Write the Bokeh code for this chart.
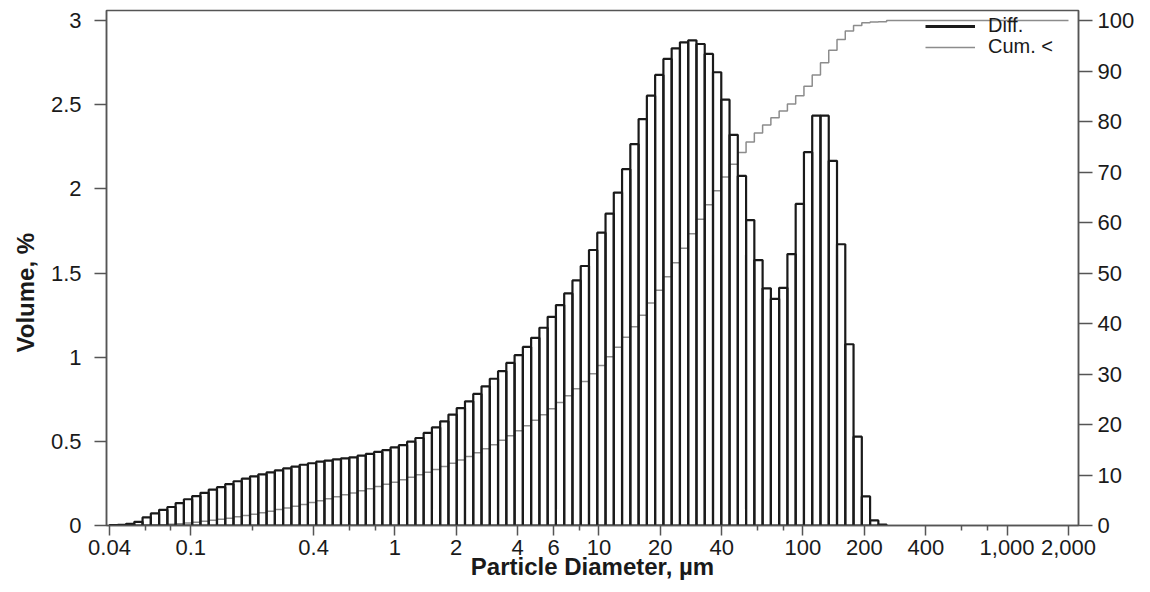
import numpy as np
from bokeh.plotting import figure
from bokeh.models import (Range1d, LinearAxis, FixedTicker, NumeralTickFormatter,
                          Legend, LegendItem, Title)
from bokeh.embed import file_html
from bokeh.resources import INLINE

# ---- data ----
# channel edges: 116 logarithmic channels from 0.04 to 2000 um
n_channels = 116
d_min, d_max = 0.04, 2000.0

# differential volume %, channels 0..93 (higher channels are zero)
diff_volume = [
    0.002, 0.004, 0.010, 0.022, 0.048, 0.072, 0.093, 0.110, 0.133, 0.156,
    0.175, 0.194, 0.213, 0.228, 0.246, 0.263, 0.278, 0.292, 0.304, 0.316,
    0.328, 0.339, 0.350, 0.361, 0.370, 0.379, 0.386, 0.393, 0.399, 0.405,
    0.415, 0.425, 0.437, 0.448, 0.464, 0.477, 0.498, 0.520, 0.550, 0.583,
    0.619, 0.659, 0.698, 0.738, 0.782, 0.827, 0.872, 0.917, 0.966, 1.012,
    1.061, 1.115, 1.175, 1.240, 1.310, 1.379, 1.456, 1.542, 1.637, 1.740,
    1.853, 1.978, 2.117, 2.266, 2.415, 2.554, 2.677, 2.772, 2.835, 2.871,
    2.883, 2.861, 2.802, 2.693, 2.530, 2.321, 2.077, 1.815, 1.577, 1.409,
    1.347, 1.412, 1.613, 1.911, 2.218, 2.435, 2.435, 2.167, 1.671, 1.077,
    0.528, 0.173, 0.030, 0.005,
]

# cumulative volume % (undersize) level over each channel, channels 0..115
cum_volume = [
    0.00, 0.00, 0.01, 0.02, 0.04, 0.09, 0.16, 0.25, 0.36, 0.49,
    0.65, 0.83, 1.02, 1.23, 1.46, 1.71, 1.97, 2.25, 2.54, 2.84,
    3.16, 3.49, 3.83, 4.18, 4.54, 4.91, 5.29, 5.67, 6.07, 6.46,
    6.87, 7.28, 7.71, 8.15, 8.59, 9.06, 9.54, 10.03, 10.55, 11.10,
    11.69, 12.31, 12.96, 13.66, 14.40, 15.18, 16.01, 16.88, 17.80, 18.76,
    19.78, 20.84, 21.95, 23.13, 24.37, 25.68, 27.06, 28.51, 30.05, 31.69,
    33.43, 35.28, 37.26, 39.38, 41.65, 44.06, 46.61, 49.29, 52.06, 54.90,
    57.77, 60.65, 63.51, 66.32, 69.01, 71.54, 73.86, 75.94, 77.75, 79.33,
    80.74, 82.08, 83.50, 85.11, 87.02, 89.24, 91.67, 94.11, 96.28, 97.95,
    99.02, 99.55, 99.72, 99.75,
    100.0, 100.0, 100.0, 100.0, 100.0, 100.0, 100.0, 100.0, 100.0, 100.0, 100.0,
    100.0, 100.0, 100.0, 100.0, 100.0, 100.0, 100.0, 100.0, 100.0, 100.0, 100.0,
]

x_major_ticks = [0.04, 0.1, 0.4, 1, 2, 4, 6, 10, 20, 40, 100, 200, 400, 1000, 2000]
x_minor_ticks = [0.06, 0.08, 0.2, 0.6, 0.8, 8, 60, 80, 600, 800]
y_left_ticks = [0, 0.5, 1, 1.5, 2, 2.5, 3]
y_right_ticks = [0, 10, 20, 30, 40, 50, 60, 70, 80, 90, 100]

edges = np.geomspace(d_min, d_max, n_channels + 1)

FONT = "Liberation Sans"
INK = "#1a1a1a"
AXC = "#555555"

p = figure(width=1148, height=590, x_axis_type="log",
           x_range=Range1d(0.03867, 2239), y_range=Range1d(0, 3.06),
           output_backend="svg", toolbar_location=None,
           min_border_left=106, min_border_right=70,
           min_border_top=10, min_border_bottom=65)
p.extra_y_ranges = {"cum": Range1d(0, 102)}
p.xgrid.visible = False
p.ygrid.visible = False
p.outline_line_color = AXC
p.outline_line_width = 1.5
p.background_fill_color = "white"
p.border_fill_color = "white"

# cumulative step line (drawn first, bar outlines on top)
cum_x = list(edges)
cum_y = cum_volume + [cum_volume[-1]]
r_cum = p.step(x=cum_x, y=cum_y, mode="after", y_range_name="cum",
               line_color="#8c8c8c", line_width=1.5)

# differential bars
nb = len(diff_volume)
p.quad(left=edges[:nb], right=edges[1:nb + 1], bottom=0, top=diff_volume,
       fill_color=None, line_color=INK, line_width=2.2)

# legend proxy for "Diff." (a single NaN point: nothing drawn in the frame)
r_diff = p.line(x=[np.nan], y=[np.nan], line_color=INK, line_width=3)

# x axis
xa = p.xaxis[0]
xa.ticker = FixedTicker(ticks=x_major_ticks, minor_ticks=x_minor_ticks)
xa.formatter = NumeralTickFormatter(format="0,0.[00]")
xa.axis_label = "Particle Diameter, µm"

# left axis
ya = p.yaxis[0]
ya.ticker = FixedTicker(ticks=y_left_ticks)
ya.formatter = NumeralTickFormatter(format="0.[0]")

# right axis
ra = LinearAxis(y_range_name="cum", ticker=FixedTicker(ticks=y_right_ticks))
p.add_layout(ra, "right")

for ax in (xa, ya, ra):
    ax.axis_line_color = AXC
    ax.axis_line_width = 1.5
    ax.major_tick_line_color = AXC
    ax.major_tick_line_width = 1.5
    ax.major_tick_in = 0
    ax.minor_tick_in = 0
    ax.major_label_text_font = FONT
    ax.major_label_text_font_size = "22px"
    ax.major_label_text_color = INK
    ax.axis_label_text_font = FONT
    ax.axis_label_text_font_size = "24px"
    ax.axis_label_text_font_style = "bold"
    ax.axis_label_text_color = INK

xa.major_tick_out = 10
xa.minor_tick_out = 5
xa.minor_tick_line_color = AXC
xa.minor_tick_line_width = 1.5
xa.major_label_standoff = 4
xa.axis_label_standoff = -5

ya.major_tick_out = 12
ya.minor_tick_line_color = None
ya.major_label_standoff = 13

ra.major_tick_out = 14
ra.minor_tick_line_color = None
ra.major_label_standoff = 5

# left axis title, set a little below the frame centre as in the reference
p.add_layout(Title(text="Volume, %", align="left", offset=173, standoff=17,
                   text_font=FONT, text_font_size="24px",
                   text_font_style="bold", text_color=INK), "left")


def make_legend(label, renderer, loc):
    return Legend(items=[LegendItem(label=label, renderers=[renderer])],
                  location=loc, glyph_width=50, glyph_height=20,
                  label_standoff=13, padding=0, margin=0, spacing=0,
                  border_line_color=None, background_fill_alpha=0,
                  label_text_font=FONT, label_text_font_size="20px",
                  label_text_color=INK, label_height=20)


p.add_layout(make_legend("Diff.", r_diff, (819, 488)))
p.add_layout(make_legend("Cum. <", r_cum, (819, 467)))

open("out.html", "w").write(file_html(p, INLINE))
